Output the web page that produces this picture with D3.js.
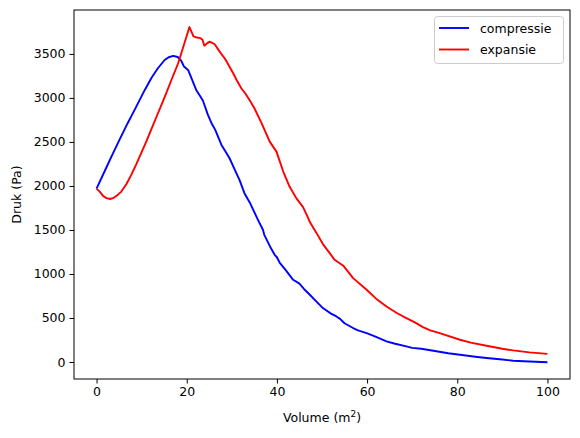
<!DOCTYPE html>
<html>
<head>
<meta charset="utf-8">
<script src="https://cdn.jsdelivr.net/npm/d3@7"></script>
<style>
    body { margin: 0; background: #ffffff; }
    svg text { font-family: "DejaVu Sans", sans-serif; fill: #000; }
</style>
</head>
<body>
<svg id="chart" width="580" height="438"></svg>
<script>
    // compressie curve (volume, pressure)
    var compVolume = [0, 2, 3.3, 5, 6.9, 8.5, 10.7, 12.2, 13.6, 15.1, 16, 17, 18, 18.8, 19.4, 20.3, 21, 22.1, 23, 23.6, 24.7, 25.5, 26.3, 27.7, 28.5, 29.5, 31, 31.7, 32.8, 34, 35.8, 36.9, 37.2, 38.5, 39.5, 40, 40.6, 42, 43.6, 45, 46, 47.3, 48.5, 50.2, 50.6, 52, 53.2, 54, 55, 56.9, 58, 59.9, 62, 64.3, 66, 68.7, 70, 72, 74.7, 78, 80.6, 84, 86.5, 90, 92.4, 96, 100];
    var compDruk = [1970, 2190, 2334, 2515, 2713, 2870, 3091, 3230, 3337, 3431, 3462, 3478, 3465, 3420, 3356, 3318, 3230, 3091, 3020, 2968, 2807, 2713, 2640, 2466, 2400, 2315, 2145, 2069, 1918, 1810, 1615, 1502, 1445, 1310, 1218, 1190, 1130, 1040, 934, 890, 830, 764, 700, 613, 600, 550, 518, 490, 440, 386, 360, 329, 285, 234, 210, 177, 160, 150, 128, 100, 83, 60, 45, 28, 15, 6, -2];

    // expansie curve (volume, pressure)
    var expVolume = [0, 0.7, 1.5, 2.2, 3, 3.8, 4.6, 5.5, 6.6, 7.7, 8.8, 9.9, 11, 12.1, 13.2, 14.4, 15.5, 16.6, 18.1, 19.3, 20.6, 21, 21.5, 22, 23, 23.5, 23.9, 24.5, 25.1, 26.2, 27.3, 28.4, 29, 30.3, 31, 32.1, 33, 34, 35, 36.6, 38.4, 39.9, 41.4, 42.8, 44.3, 45.8, 46.9, 47.3, 48, 48.8, 50.2, 51.7, 52.8, 54, 54.8, 56.9, 59.9, 62, 64.3, 66.5, 68.7, 70.6, 72.4, 74, 76.1, 80.6, 83, 86.5, 90, 92.4, 96, 100];
    var expDruk = [1970, 1936, 1885, 1862, 1852, 1865, 1895, 1936, 2020, 2126, 2245, 2372, 2500, 2637, 2775, 2920, 3060, 3204, 3394, 3590, 3805, 3760, 3700, 3690, 3680, 3660, 3594, 3620, 3640, 3610, 3526, 3451, 3400, 3280, 3210, 3110, 3050, 2970, 2883, 2713, 2504, 2390, 2164, 1993, 1862, 1760, 1640, 1590, 1530, 1464, 1340, 1237, 1161, 1120, 1090, 953, 821, 720, 631, 560, 499, 450, 397, 360, 329, 253, 220, 185, 150, 132, 110, 92];

    var xTicks = [0, 20, 40, 60, 80, 100];
    var yTicks = [0, 500, 1000, 1500, 2000, 2500, 3000, 3500];
    var seriesNames = ["compressie", "expansie"];
    var seriesColors = ["#0000ff", "#ff0000"];

    var plotLeft = 74, plotRight = 570, plotTop = 10, plotBottom = 379;
    var svg = d3.select("#chart");

    var x = d3.scaleLinear().domain([-5, 105]).range([plotLeft, plotRight]);
    var y = d3.scaleLinear().domain([-193, 3999]).range([plotBottom, plotTop]);

    // axes
    var xAxis = svg.append("g")
        .attr("transform", "translate(0," + plotBottom + ")")
        .call(d3.axisBottom(x).tickValues(xTicks).tickFormat(d3.format("d")).tickSize(4.5).tickPadding(4));
    var yAxis = svg.append("g")
        .attr("transform", "translate(" + plotLeft + ",0)")
        .call(d3.axisLeft(y).tickValues(yTicks).tickFormat(d3.format("d")).tickSize(4.5).tickPadding(4));

    [xAxis, yAxis].forEach(function (g) {
        g.select(".domain").remove();
        g.selectAll("line").attr("stroke", "#000").attr("stroke-width", 1);
        g.selectAll("text").attr("font-size", 12.5).attr("font-family", "DejaVu Sans").attr("fill", "#000");
    });

    // frame
    svg.append("rect")
        .attr("x", plotLeft).attr("y", plotTop)
        .attr("width", plotRight - plotLeft).attr("height", plotBottom - plotTop)
        .attr("fill", "none").attr("stroke", "#000").attr("stroke-width", 1);

    // lines
    var line = d3.line().x(d => x(d[0])).y(d => y(d[1]));
    var series = [
        d3.zip(compVolume, compDruk),
        d3.zip(expVolume, expDruk)
    ];
    series.forEach(function (pts, i) {
        svg.append("path")
            .datum(pts)
            .attr("d", line)
            .attr("fill", "none")
            .attr("stroke", seriesColors[i])
            .attr("stroke-width", 1.9)
            .attr("stroke-linejoin", "round");
    });

    // axis labels
    var xl = svg.append("text")
        .attr("x", (plotLeft + plotRight) / 2).attr("y", 422)
        .attr("text-anchor", "middle").attr("font-size", 12.5);
    xl.append("tspan").text("Volume (m");
    xl.append("tspan").attr("font-size", 9).attr("dy", -5).text("2");
    xl.append("tspan").attr("dy", 5).text(")");

    svg.append("text")
        .attr("transform", "translate(21," + ((plotTop + plotBottom) / 2) + ") rotate(-90)")
        .attr("text-anchor", "middle").attr("font-size", 12.5)
        .text("Druk (Pa)");

    // legend
    var legend = svg.append("g");
    legend.append("rect")
        .attr("x", 434.5).attr("y", 16.5).attr("width", 129).attr("height", 47)
        .attr("rx", 3).attr("fill", "#fff").attr("fill-opacity", 0.8)
        .attr("stroke", "#cccccc").attr("stroke-width", 1);
    seriesNames.forEach(function (name, i) {
        var ly = 28 + i * 21.5;
        legend.append("line")
            .attr("x1", 439).attr("x2", 469).attr("y1", ly).attr("y2", ly)
            .attr("stroke", seriesColors[i]).attr("stroke-width", 1.9);
        legend.append("text")
            .attr("x", 480).attr("y", ly + 4.5)
            .attr("font-size", 12.5).text(name);
    });
</script>
</body>
</html>
